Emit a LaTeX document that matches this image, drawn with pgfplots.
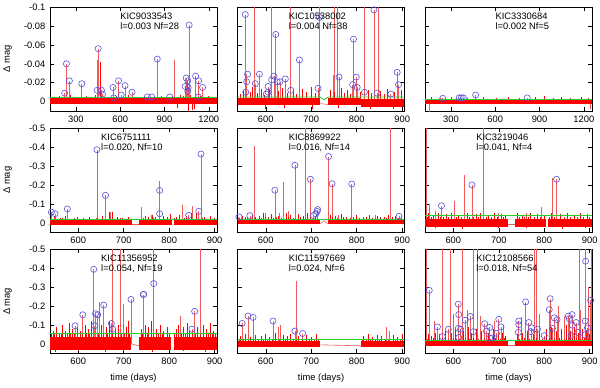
\documentclass[border=0pt]{standalone}
\usepackage{fontspec}
\setmainfont{Liberation Sans}
\usepackage{pgfplots}
\pgfplotsset{compat=1.18}
\usepgfplotslibrary{groupplots}
\definecolor{lcred}{HTML}{FF0000}
\definecolor{spk}{HTML}{F05A5A}
\definecolor{thr}{HTML}{2AD02A}
\definecolor{flr}{HTML}{5A50DC}

\tikzset{kic/.style={anchor=north west, align=left, inner sep=0pt, font=\fontsize{7}{7.6}\selectfont}}

\pgfplotsset{
  kep/.style={scale only axis, width=125pt, height=78pt, y dir=reverse,
    tick align=inside, major tick length=3pt,
    every tick/.style={black, line width=0.4pt},
    axis line style={black, line width=0.5pt},
    ticklabel style={font=\fontsize{7}{8}\selectfont},
    label style={font=\fontsize{7}{8}\selectfont, inner sep=0pt},
    ylabel style={at={(axis description cs:-0.228,0.5)}, anchor=south},
    xlabel style={at={(axis description cs:0.5,-0.19)}, anchor=north}},
  wide/.style={xmin=125, xmax=1255, xtick={300,600,900,1200}, xticklabels={300,600,900,1200}},
  narrow/.style={xmin=538, xmax=905, xtick={600,700,800,900}, xticklabels={600,700,800,900}},
  toprow/.style={ymin=-0.1, ymax=0.01, ytick={-0.1,-0.08,-0.06,-0.04,-0.02,0}},
  lowrow/.style={ymin=-0.5, ymax=0.05, ytick={-0.5,-0.4,-0.3,-0.2,-0.1,0}},
  toplab/.style={yticklabels={-0.1,-0.08,-0.06,-0.04,-0.02,0}, ylabel={Δ mag}},
  lowlab/.style={yticklabels={-0.5,-0.4,-0.3,-0.2,-0.1,0}, ylabel={Δ mag}},
  nolab/.style={yticklabels={}},
  band/.style={draw=none, fill=lcred},
  gapl/.style={spk, line width=0.45pt},
  spikes/.style={ycomb, spk, line width=0.5pt},
  grass/.style={ycomb, lcred, line width=0.45pt},
  thrl/.style={thr, line width=0.6pt},
  flares/.style={only marks, mark=o, mark size=2.3pt, flr, mark options={line width=0.45pt}}
}

\begin{document}
\begin{tikzpicture}
\begin{groupplot}[group style={group name=g, group size=3 by 3,
    horizontal sep=15.5pt, vertical sep=12.75pt}, kep]

% ---- row 1, col 1
\nextgroupplot[wide, toprow, toplab]
\addplot[spikes] coordinates {(224,-0.009)(236,-0.040)(256,-0.022)(340,-0.019)(444,-0.044)(451,-0.056)(473,-0.012)(480,-0.008)(551,-0.015)(556,-0.004)(589,-0.022)(607,-0.007)(633,-0.017)(680,-0.010)(784,-0.005)(813,-0.005)(851,-0.045)(936,-0.005)(969,-0.044)(1040,-0.016)(1047,-0.025)(1058,-0.022)(1060,-0.015)(1067,-0.081)(1111,-0.027)(1131,-0.022)(1158,-0.015)};
\addplot[band] coordinates {(125,-0.0035)(1255,-0.0035)(1255,0.003)(125,0.003)};
\addplot[grass] coordinates {(150,-0.005)(185,-0.006)(210,-0.004)(262,-0.007)(290,-0.005)(318,-0.004)(372,-0.006)(402,-0.005)(430,-0.007)(462,-0.042)(470,-0.006)(500,-0.005)(528,-0.004)(575,-0.006)(620,-0.005)(655,-0.007)(700,-0.005)(735,-0.004)(760,-0.006)(830,-0.005)(880,-0.006)(905,-0.004)(950,-0.006)(985,0.007)(990,-0.005)(1010,-0.007)(1030,-0.006)(1060,0.010)(1075,-0.007)(1090,0.009)(1105,0.008)(1140,-0.006)(1175,-0.005)(1200,-0.006)(1230,-0.005)};
\addplot[thrl] coordinates {(125,-0.004)(1255,-0.004)};
\addplot[flares] coordinates {(224,-0.009)(236,-0.040)(256,-0.022)(340,-0.019)(444,-0.012)(451,-0.056)(473,-0.012)(480,-0.008)(551,-0.015)(556,-0.004)(589,-0.022)(607,-0.007)(633,-0.017)(680,-0.010)(784,-0.005)(813,-0.005)(851,-0.045)(936,-0.005)(1040,-0.016)(1047,-0.025)(1058,-0.022)(1060,-0.015)(1058,-0.011)(1067,-0.081)(1111,-0.027)(1131,-0.022)(1158,-0.015)(1129,-0.005)};

% ---- row 1, col 2
\nextgroupplot[narrow, toprow, nolab]
\addplot[spikes] coordinates {(555,-0.092)(558,-0.029)(574,-0.2)(577,-0.019)(586,-0.029)(605,-0.016)(613,-0.2)(618,-0.027)(622,-0.071)(625,-0.021)(631,-0.021)(643,-0.024)(654,-0.2)(655,-0.012)(674,-0.044)(715,-0.014)(718,-0.2)(748,-0.028)(750,-0.2)(757,-0.2)(761,-0.026)(791,-0.018)(793,-0.066)(799,-0.026)(801,-0.015)(817,-0.2)(838,-0.097)(845,-0.009)(847,-0.2)(875,-0.008)(889,-0.031)(892,-0.018)};
\addplot[band] coordinates {(538,-0.004)(720,-0.004)(720,0.004)(538,0.004)};
\addplot[band] coordinates {(737,-0.004)(810,-0.004)(810,0.004)(737,0.004)};
\addplot[band] coordinates {(810,-0.003)(905,-0.003)(905,0.006)(810,0.006)};
\addplot[gapl] coordinates {(720,0.002)(737,0.003)};
\addplot[grass] coordinates {(545,-0.008)(550,-0.012)(565,-0.010)(570,-0.015)(582,-0.009)(590,-0.013)(597,-0.007)(600,0.008)(608,-0.012)(628,-0.011)(636,-0.014)(640,0.007)(648,-0.009)(660,-0.012)(668,-0.008)(680,-0.013)(690,-0.010)(700,-0.016)(702,0.008)(708,-0.009)(742,-0.012)(750,-0.010)(760,0.007)(765,-0.014)(772,-0.009)(780,-0.012)(786,-0.008)(808,-0.010)(825,-0.012)(830,0.008)(832,-0.009)(852,-0.011)(860,-0.008)(868,-0.013)(880,0.008)(882,-0.010)(898,-0.012)};
\addplot[thrl] coordinates {(538,-0.005)(720,-0.005)(728,-0.002)(737,-0.005)(905,-0.005)};
\addplot[flares] coordinates {(555,-0.092)(560,-0.029)(558,-0.021)(556,-0.010)(577,-0.019)(586,-0.029)(601,-0.008)(605,-0.016)(605,-0.010)(613,-0.023)(618,-0.027)(622,-0.071)(625,-0.021)(631,-0.021)(643,-0.024)(655,-0.012)(674,-0.044)(715,-0.014)(718,-0.089)(761,-0.026)(791,-0.018)(793,-0.066)(799,-0.026)(801,-0.015)(817,-0.010)(838,-0.097)(845,-0.009)(875,-0.008)(889,-0.031)(892,-0.018)};
\node[kic] at (axis cs:650,-0.094) {KIC10538002\\l=0.004 Nf=38};

% ---- row 1, col 3
\nextgroupplot[wide, toprow, nolab]
\addplot[spikes] coordinates {(150,0.011)(244,-0.004)(356,-0.004)(370,-0.004)(384,-0.004)(467,-0.007)(816,-0.004)(1245,0.008)};
\addplot[band] coordinates {(125,-0.003)(1255,-0.003)(1255,0.003)(125,0.003)};
\addplot[grass] coordinates {(170,-0.005)(230,-0.004)(300,-0.005)(410,-0.004)(520,-0.005)(610,-0.004)(690,-0.005)(760,-0.004)(870,-0.005)(930,-0.006)(990,-0.004)(1050,-0.005)(1110,-0.004)(1180,-0.005)(1230,-0.004)};
\addplot[thrl] coordinates {(125,-0.0025)(1255,-0.0025)};
\addplot[flares] coordinates {(244,-0.0035)(356,-0.004)(370,-0.004)(384,-0.004)(467,-0.007)(816,-0.004)};
\node[kic] at (axis cs:600,-0.094) {KIC3330684\\l=0.002 Nf=5};

% ---- row 2, col 1
\nextgroupplot[narrow, lowrow, lowlab]
\addplot[spikes] coordinates {(540,-0.056)(549,-0.048)(576,-0.073)(641,-0.386)(660,-0.145)(671,-0.056)(739,-0.085)(761,-0.040)(779,-0.222)(830,-0.096)(843,-0.039)(852,-0.090)(865,-0.061)(870,-0.363)};
\addplot[band] coordinates {(538,-0.013)(718,-0.013)(718,0.011)(538,0.011)};
\addplot[band] coordinates {(734,-0.013)(806,-0.013)(806,0.011)(734,0.011)};
\addplot[band] coordinates {(810,-0.013)(905,-0.013)(905,0.011)(810,0.011)};
\addplot[gapl] coordinates {(718,0.006)(734,0.006)};
\addplot[grass] coordinates {(548,-0.030)(560,-0.025)(572,-0.035)(585,-0.020)(598,-0.030)(612,-0.025)(625,-0.030)(652,-0.035)(668,-0.055)(675,-0.055)(685,-0.030)(698,-0.025)(710,-0.030)(748,-0.035)(755,-0.030)(762,-0.040)(770,-0.030)(786,-0.035)(795,-0.030)(803,-0.045)(815,-0.030)(822,-0.040)(838,-0.035)(848,-0.050)(860,-0.050)(878,-0.030)(890,-0.035)(900,-0.025)};
\addplot[grass] coordinates {(542,-0.022)(554,-0.020)(566,-0.025)(578,-0.020)(591,-0.024)(604,-0.020)(618,-0.022)(632,-0.020)(640,-0.024)(646,-0.020)(658,-0.022)(680,-0.020)(692,-0.024)(704,-0.020)(714,-0.022)(738,-0.020)(743,-0.024)(758,-0.020)(766,-0.024)(776,-0.020)(790,-0.022)(800,-0.020)(812,-0.024)(826,-0.020)(833,-0.024)(843,-0.020)(855,-0.022)(866,-0.020)(873,-0.024)(884,-0.020)(895,-0.022)};
\addplot[thrl] coordinates {(538,-0.02)(905,-0.02)};
\addplot[flares] coordinates {(541,-0.056)(549,-0.048)(576,-0.073)(641,-0.386)(660,-0.145)(779,-0.171)(779,-0.048)(843,-0.039)(865,-0.061)(870,-0.363)};
\node[kic] at (axis cs:650,-0.47) {KIC6751111\\l=0.020, Nf=10};

% ---- row 2, col 2
\nextgroupplot[narrow, lowrow, nolab]
\addplot[spikes] coordinates {(540,-0.031)(565,-0.038)(575,-0.406)(600,-0.050)(620,-0.172)(630,-0.050)(639,-0.218)(650,-0.060)(664,-0.304)(688,-0.6)(698,-0.230)(705,-0.038)(713,-0.060)(714,-0.070)(738,-0.350)(746,-0.206)(760,-0.040)(789,-0.205)(840,-0.040)(875,-0.6)(893,-0.034)};
\addplot[band] coordinates {(538,-0.020)(720,-0.020)(720,0.007)(538,0.007)};
\addplot[band] coordinates {(736,-0.020)(905,-0.020)(905,0.007)(736,0.007)};
\addplot[gapl] coordinates {(720,0.004)(728,-0.010)(736,0.004)};
\addplot[grass] coordinates {(548,-0.035)(555,-0.030)(570,-0.040)(585,-0.035)(595,-0.050)(605,-0.030)(612,-0.045)(628,-0.035)(645,-0.050)(655,-0.040)(672,-0.045)(682,-0.035)(692,-0.050)(708,-0.035)(742,-0.040)(752,-0.035)(765,-0.045)(778,-0.030)(798,-0.040)(815,-0.030)(828,-0.040)(845,-0.035)(860,-0.030)(870,-0.040)(885,-0.035)(898,-0.030)};
\addplot[grass] coordinates {(542,-0.027)(560,-0.026)(577,-0.028)(590,-0.026)(600,-0.028)(617,-0.026)(623,-0.028)(635,-0.026)(650,-0.028)(660,-0.026)(677,-0.028)(687,-0.026)(698,-0.028)(713,-0.026)(747,-0.028)(758,-0.026)(771,-0.028)(785,-0.026)(792,-0.028)(805,-0.026)(821,-0.028)(835,-0.026)(852,-0.028)(865,-0.026)(878,-0.028)(892,-0.026)};
\addplot[thrl] coordinates {(538,-0.018)(905,-0.018)};
\addplot[flares] coordinates {(541,-0.031)(565,-0.038)(620,-0.172)(664,-0.304)(698,-0.230)(705,-0.038)(710,-0.048)(713,-0.060)(714,-0.070)(738,-0.350)(746,-0.206)(789,-0.205)(893,-0.034)};
\node[kic] at (axis cs:650,-0.47) {KIC8869922\\l=0.016, Nf=14};

% ---- row 2, col 3
\nextgroupplot[narrow, lowrow, nolab]
\addplot[spikes] coordinates {(541,-0.6)(548,-0.100)(560,-0.060)(574,-0.090)(602,-0.116)(624,-0.250)(641,-0.200)(667,-0.6)(700,-0.050)(760,-0.050)(794,-0.085)(817,-0.239)(827,-0.230)(850,-0.050)};
\addplot[band] coordinates {(538,-0.022)(720,-0.022)(720,0.024)(538,0.024)};
\addplot[band] coordinates {(735,-0.022)(803,-0.022)(803,0.024)(735,0.024)};
\addplot[band] coordinates {(809,-0.022)(905,-0.022)(905,0.024)(809,0.024)};
\addplot[gapl] coordinates {(720,0.010)(735,0.010)};
\addplot[grass] coordinates {(545,-0.050)(556,-0.040)(560,0.030)(566,-0.050)(585,-0.045)(596,-0.050)(612,-0.040)(620,0.032)(630,-0.050)(650,-0.045)(660,-0.050)(678,-0.040)(690,-0.050)(700,0.030)(705,-0.045)(715,-0.040)(740,-0.050)(752,-0.040)(760,0.030)(770,-0.050)(785,-0.045)(800,-0.040)(815,-0.050)(835,-0.045)(840,0.032)(850,-0.050)(865,-0.040)(880,-0.050)(890,0.030)(895,-0.045)};
\addplot[grass] coordinates {(542,-0.030)(551,-0.032)(571,-0.030)(579,-0.032)(590,-0.030)(606,-0.032)(618,-0.030)(636,-0.032)(644,-0.030)(655,-0.032)(672,-0.030)(684,-0.032)(696,-0.030)(710,-0.032)(745,-0.030)(757,-0.032)(765,-0.030)(778,-0.032)(792,-0.030)(812,-0.032)(822,-0.030)(843,-0.032)(858,-0.030)(872,-0.032)(886,-0.030)(900,-0.032)};
\addplot[thrl] coordinates {(538,-0.041)(905,-0.041)};
\addplot[flares] coordinates {(574,-0.090)(641,-0.200)(827,-0.230)};
\node[kic] at (axis cs:650,-0.47) {KIC3219046\\l=0.041, Nf=4};

% ---- row 3, col 1
\nextgroupplot[narrow, lowrow, lowlab, xlabel={time (days)}]
\addplot[spikes] coordinates {(593,-0.096)(610,-0.154)(634,-0.394)(636,-0.096)(638,-0.159)(643,-0.154)(647,-0.222)(656,-0.205)(673,-0.108)(676,-0.6)(693,-0.6)(699,-0.210)(716,-0.235)(743,-0.261)(766,-0.6)(825,-0.150)(850,-0.078)(856,-0.172)(869,-0.6)};
\addplot[band] coordinates {(538,-0.035)(717,-0.035)(717,0.032)(538,0.032)};
\addplot[band] coordinates {(734,-0.035)(804,-0.035)(804,0.032)(734,0.032)};
\addplot[band] coordinates {(810,-0.035)(905,-0.035)(905,0.032)(810,0.032)};
\addplot[gapl] coordinates {(717,0.000)(734,0.010)};
\addplot[grass] coordinates {(545,-0.07)(550,0.045)(552,-0.09)(558,-0.06)(565,-0.10)(572,-0.07)(580,-0.11)(587,-0.08)(598,-0.09)(600,0.040)(605,-0.07)(615,-0.10)(622,-0.08)(628,-0.12)(650,-0.10)(660,0.045)(662,-0.09)(668,-0.12)(682,-0.08)(688,-0.10)(700,0.040)(705,-0.09)(710,-0.12)(738,-0.08)(748,-0.10)(755,-0.09)(760,-0.12)(762,0.045)(772,-0.08)(780,-0.10)(788,-0.07)(795,-0.09)(815,-0.08)(820,-0.10)(830,0.040)(832,-0.09)(840,-0.11)(845,-0.07)(862,-0.09)(875,-0.10)(880,0.045)(882,-0.08)(890,-0.11)(898,-0.07)};
\addplot[grass] coordinates {(541,-0.050)(548,-0.055)(562,-0.050)(576,-0.055)(583,-0.050)(592,-0.055)(609,-0.050)(618,-0.055)(625,-0.050)(645,-0.055)(655,-0.050)(665,-0.055)(676,-0.050)(694,-0.055)(701,-0.050)(713,-0.055)(741,-0.050)(752,-0.055)(766,-0.050)(776,-0.055)(784,-0.050)(800,-0.055)(812,-0.050)(826,-0.055)(836,-0.050)(850,-0.055)(858,-0.050)(868,-0.055)(886,-0.050)(894,-0.055)(902,-0.050)};
\addplot[thrl] coordinates {(538,-0.054)(905,-0.054)};
\addplot[flares] coordinates {(593,-0.096)(610,-0.154)(634,-0.394)(636,-0.096)(638,-0.159)(643,-0.154)(656,-0.205)(673,-0.108)(676,-0.078)(716,-0.235)(743,-0.261)(744,-0.262)(766,-0.319)(850,-0.078)(856,-0.172)};
\node[kic] at (axis cs:650,-0.47) {KIC11356952\\l=0.054, Nf=19};

% ---- row 3, col 2
\nextgroupplot[narrow, lowrow, nolab, xlabel={time (days)}]
\addplot[spikes] coordinates {(548,-0.108)(561,-0.147)(572,-0.140)(616,-0.121)(628,-0.090)(631,-0.100)(664,-0.068)(667,-0.334)(681,-0.055)(865,-0.090)(872,-0.070)};
\addplot[band] coordinates {(538,-0.017)(720,-0.017)(720,0.015)(538,0.015)};
\addplot[band] coordinates {(810,-0.017)(905,-0.017)(905,0.015)(810,0.015)};
\addplot[gapl] coordinates {(720,0.005)(810,0.010)};
\addplot[grass] coordinates {(545,-0.040)(555,-0.050)(566,-0.035)(578,-0.045)(590,-0.040)(598,-0.055)(607,-0.035)(622,-0.060)(638,-0.045)(648,-0.040)(655,-0.050)(672,-0.040)(690,-0.045)(700,-0.035)(712,-0.050)(815,-0.040)(825,-0.050)(835,-0.035)(845,-0.045)(855,-0.040)(880,-0.045)(890,-0.035)(900,-0.050)};
\addplot[grass] coordinates {(541,-0.024)(550,-0.026)(561,-0.024)(572,-0.026)(584,-0.024)(594,-0.026)(603,-0.024)(614,-0.026)(630,-0.024)(643,-0.026)(660,-0.024)(667,-0.026)(680,-0.024)(695,-0.026)(706,-0.024)(716,-0.026)(812,-0.024)(820,-0.026)(830,-0.024)(840,-0.026)(850,-0.024)(862,-0.026)(870,-0.024)(885,-0.026)(895,-0.024)};
\addplot[thrl] coordinates {(538,-0.024)(905,-0.024)};
\addplot[flares] coordinates {(548,-0.108)(561,-0.147)(572,-0.140)(616,-0.121)(664,-0.068)(681,-0.055)};
\node[kic] at (axis cs:650,-0.47) {KIC11597669\\l=0.024, Nf=6};

% ---- row 3, col 3
\nextgroupplot[narrow, lowrow, nolab, xlabel={time (days)}]
\addplot[spikes] coordinates {(541,-0.6)(547,-0.283)(558,-0.120)(565,-0.090)(576,-0.6)(589,-0.077)(593,-0.6)(600,-0.160)(611,-0.210)(612,-0.155)(616,-0.078)(619,-0.6)(626,-0.125)(630,-0.180)(637,-0.145)(644,-0.6)(653,-0.6)(660,-0.150)(669,-0.107)(673,-0.068)(680,-0.087)(690,-0.120)(695,-0.056)(700,-0.130)(705,-0.090)(710,-0.100)(744,-0.121)(750,-0.140)(759,-0.222)(766,-0.113)(772,-0.085)(778,-0.6)(783,-0.6)(785,-0.078)(790,-0.160)(800,-0.044)(811,-0.181)(813,-0.239)(818,-0.082)(822,-0.138)(828,-0.128)(830,-0.200)(845,-0.150)(853,-0.147)(855,-0.133)(861,-0.155)(862,-0.099)(870,-0.113)(877,-0.6)(880,-0.180)(890,-0.6)(891,-0.437)(895,-0.085)(898,-0.300)(902,-0.230)(903,-0.6)};
\addplot[band] coordinates {(538,-0.020)(720,-0.020)(720,0.012)(538,0.012)};
\addplot[band] coordinates {(735,-0.020)(905,-0.020)(905,0.012)(735,0.012)};
\addplot[gapl] coordinates {(720,0.005)(735,0.005)};
\addplot[grass] coordinates {(545,-0.05)(552,-0.04)(560,-0.06)(570,-0.05)(582,-0.07)(596,-0.06)(605,-0.08)(622,-0.07)(632,-0.09)(640,-0.06)(650,-0.08)(662,-0.07)(676,-0.06)(688,-0.08)(698,-0.05)(708,-0.06)(715,-0.04)(740,-0.05)(752,-0.06)(762,-0.07)(775,-0.05)(790,-0.06)(805,-0.08)(816,-0.09)(826,-0.07)(838,-0.08)(848,-0.10)(858,-0.07)(866,-0.09)(875,-0.06)(884,-0.08)(893,-0.07)(900,-0.05)};
\addplot[grass] coordinates {(542,-0.028)(556,-0.030)(565,-0.028)(576,-0.030)(588,-0.028)(600,-0.030)(614,-0.028)(627,-0.030)(636,-0.028)(645,-0.030)(656,-0.028)(668,-0.030)(681,-0.028)(693,-0.030)(703,-0.028)(712,-0.030)(745,-0.028)(757,-0.030)(768,-0.028)(782,-0.030)(796,-0.028)(810,-0.030)(821,-0.028)(832,-0.030)(843,-0.028)(853,-0.030)(862,-0.028)(871,-0.030)(880,-0.028)(888,-0.030)(897,-0.028)};
\addplot[thrl] coordinates {(538,-0.018)(905,-0.018)};
\addplot[flares] coordinates {(547,-0.283)(565,-0.090)(576,-0.039)(589,-0.077)(611,-0.210)(612,-0.155)(611,-0.082)(612,-0.034)(616,-0.078)(626,-0.125)(637,-0.145)(644,-0.065)(669,-0.107)(673,-0.068)(680,-0.087)(680,-0.031)(685,-0.031)(695,-0.056)(700,-0.130)(705,-0.090)(744,-0.121)(744,-0.102)(743,-0.061)(759,-0.222)(766,-0.113)(770,-0.065)(772,-0.085)(785,-0.078)(800,-0.044)(811,-0.181)(813,-0.239)(818,-0.082)(822,-0.138)(828,-0.128)(853,-0.147)(855,-0.133)(859,-0.044)(861,-0.155)(862,-0.099)(870,-0.113)(874,-0.061)(889,-0.048)(890,-0.121)(891,-0.437)(895,-0.085)(902,-0.230)};
\node[kic] at (axis cs:650,-0.47) {KIC12108566\\l=0.018, Nf=54};
\end{groupplot}
% label of the first panel, set from the panel's corner (x = 600 d)
\node[kic] at ([xshift=52.5pt,yshift=-4.25pt]g c1r1.north west) {KIC9033543\\l=0.003 Nf=28};
\pgfresetboundingbox
\path[use as bounding box] ([xshift=-37.5pt,yshift=5.25pt]g c1r1.north west) rectangle ([xshift=6pt,yshift=-25.5pt]g c3r3.south east);
\end{tikzpicture}
\end{document}
